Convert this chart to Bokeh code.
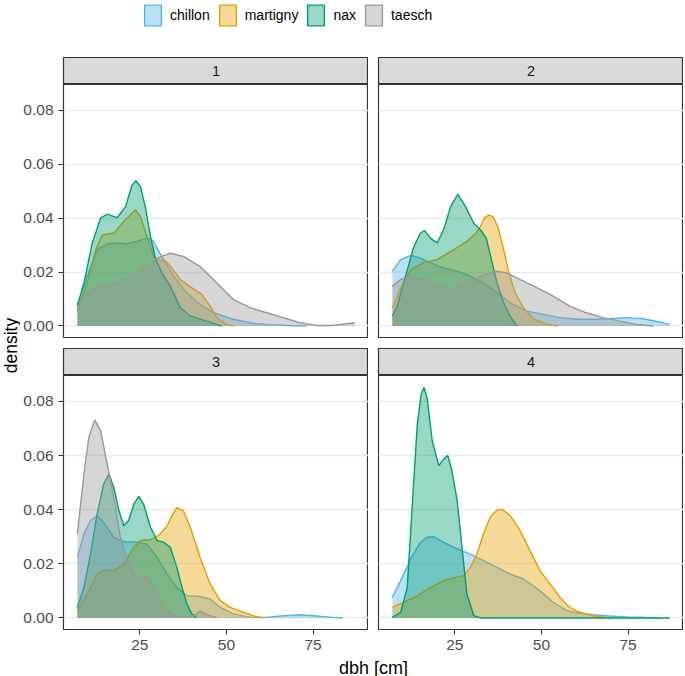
from bokeh.plotting import figure
from bokeh.models import Range1d, Label, FixedTicker, PrintfTickFormatter, ColumnDataSource
from bokeh.layouts import column, row
from bokeh.embed import file_html
from bokeh.resources import INLINE

sites = ["chillon", "martigny", "nax", "taesch"]
colors = ["#56B4E9", "#E69F00", "#009E73", "#999999"]
panels = ["1", "2", "3", "4"]
y_ticks = [0.0, 0.02, 0.04, 0.06, 0.08]
x_ticks = [25, 50, 75]

# ---- panel 1 ----
p1_chillon_x = [7, 9.9, 12.7, 15.6, 18.5, 21.4, 24.2, 27.1, 28.6, 30.0, 31.9, 34.8, 38.6, 42.4, 46.3, 52.0, 57.7, 63.5, 69.3, 73.1]
p1_chillon_y = [.008, .0185, .0283, .0305, .0308, .0305, .0314, .0326, .032, .0289, .0246, .0185, .0123, .008, .0049, .0025, .001, .0004, .0001, 0]
p1_martigny_x = [7, 9.9, 12.3, 14.2, 17.6, 20.4, 23.8, 25.2, 27.1, 29.0, 30.9, 32.4, 34.3, 36.7, 39.6, 42.9, 45.3, 47.2, 50.1, 52.0]
p1_martigny_y = [.0055, .016, .0283, .0338, .0345, .0388, .0431, .0406, .0332, .0258, .0243, .0242, .0215, .0172, .0145, .0117, .0074, .0031, .0006, 0]
p1_nax_x = [7, 8.9, 11.3, 13.7, 15.6, 18.5, 20.9, 22.8, 23.9, 25.2, 26.6, 28.1, 29.5, 31.4, 33.8, 36.7, 39.6, 43.4, 46.3, 48.7]
p1_nax_y = [.0074, .016, .0308, .040, .0415, .0402, .0443, .0523, .0539, .0517, .0443, .0332, .0252, .0197, .0148, .0068, .0037, .0022, .001, 0]
p1_taesch_x = [7, 9.9, 13.7, 18.5, 23.3, 27.1, 30.0, 33.8, 37.6, 42.4, 47.2, 52.0, 56.8, 61.6, 66.4, 71.2, 76.0, 80.7, 83.6, 87.0]
p1_taesch_y = [.0062, .0123, .0148, .016, .0185, .0221, .0252, .027, .0258, .0221, .016, .0098, .0068, .0049, .0031, .0012, .0002, .0002, .0007, .0012]

# ---- panel 2 ----
p2_chillon_x = [7, 9.4, 12.3, 15.1, 18.0, 21.8, 25.7, 29.5, 33.3, 37.2, 41.0, 45.8, 50.6, 55.4, 60.2, 64.9, 69.7, 74.5, 79.3, 84.1, 87.0]
p2_chillon_y = [.0203, .0246, .0262, .0252, .0234, .0215, .0203, .0185, .016, .0123, .0086, .0055, .0043, .0031, .0025, .0025, .0027, .0031, .0027, .0015, .0006]
p2_martigny_x = [7, 9.4, 12.3, 16.1, 19.9, 24.7, 28.5, 30.9, 32.4, 33.5, 34.8, 36.0, 37.4, 38.9, 40.5, 42.4, 44.8, 47.7, 51.0, 54.8]
p2_martigny_y = [.0068, .0141, .0209, .0236, .0246, .0283, .0314, .0341, .0369, .0400, .0412, .0406, .0369, .0295, .0203, .0123, .0068, .0027, .0009, 0]
p2_nax_x = [7, 8.4, 10.8, 13.2, 15.1, 16.3, 18.0, 19.9, 21.8, 23.8, 25.9, 28.1, 30.5, 32.4, 34.1, 35.8, 37.2, 39.1, 41.0, 42.9]
p2_nax_y = [.0037, .0074, .0185, .0295, .0345, .0354, .0326, .0308, .0357, .0443, .0488, .0443, .0381, .0357, .0326, .0234, .016, .0086, .0037, 0]
p2_taesch_x = [7, 9.4, 12.3, 15.1, 19.0, 23.8, 28.5, 32.4, 37.2, 40.0, 43.9, 48.7, 53.4, 58.2, 63.0, 67.8, 72.6, 77.4, 82.2]
p2_taesch_y = [.0148, .0172, .0188, .0178, .0154, .0135, .016, .0185, .0203, .0197, .0172, .0142, .0111, .0074, .0049, .0031, .0018, .0006, 0]

# ---- panel 3 ----
p3_chillon_x = [7, 8.9, 10.8, 12.7, 14.6, 17.5, 20.4, 24.2, 27.1, 30.0, 32.9, 35.7, 38.6, 42.4, 45.3, 48.2, 52.0, 56.8, 61.6, 66.4, 71.2, 76.0, 80.7, 83.6]
p3_chillon_y = [.0224, .031, .036, .0378, .0353, .0298, .0282, .028, .0273, .0224, .0162, .0113, .0082, .0079, .007, .0039, .0015, .0002, .0002, .0008, .0012, .0007, .0002, 0]
p3_martigny_x = [7, 9.9, 12.7, 14.6, 17.5, 20.4, 23.3, 25.2, 28.1, 30.9, 32.9, 34.8, 35.7, 37.6, 39.6, 42.4, 45.3, 48.2, 51.1, 54.9, 58.7, 60.6]
p3_martigny_y = [.0027, .0089, .0162, .0177, .0175, .02, .0261, .0286, .0289, .031, .0341, .039, .0408, .0396, .0335, .0224, .0126, .0064, .0039, .0021, .0005, 0]
p3_nax_x = [7, 8.9, 10.8, 12.7, 14.6, 16.1, 17.5, 19.0, 20.4, 21.8, 23.3, 24.7, 26.1, 28.1, 30.0, 31.9, 33.8, 35.7, 37.2, 38.6, 40.0, 41.5]
p3_nax_y = [.0039, .0113, .0236, .0384, .0495, .0532, .0483, .0396, .0341, .036, .0421, .0449, .0421, .0335, .0286, .028, .0261, .0187, .0113, .0052, .0015, 0]
p3_taesch_x = [7, 8.9, 10.3, 12.0, 13.7, 15.6, 17.5, 19.4, 21.4, 23.3, 25.2, 27.1, 29.0, 31.9, 34.8, 38.6, 41.0, 42.4, 44.3, 47.2]
p3_taesch_y = [.031, .0532, .0667, .0732, .0692, .0569, .0446, .0298, .0212, .0162, .015, .0156, .0113, .0039, .0008, .0002, .0012, .0025, .0012, 0]

# ---- panel 4 ----
p4_chillon_x = [7, 9.4, 12.3, 15.1, 17.0, 19.0, 21.8, 25.7, 29.5, 33.3, 37.2, 41.0, 44.8, 47.7, 50.6, 53.4, 57.3, 61.1, 64.9, 69.7, 74.5, 79.3, 84.1]
p4_chillon_y = [.0076, .0138, .0218, .0279, .0298, .03, .0279, .0255, .0236, .0212, .0187, .0162, .0144, .0119, .0089, .0058, .0027, .0017, .0012, .0007, .0004, .0002, 0]
p4_martigny_x = [7, 10.3, 14.2, 18.0, 21.8, 24.7, 27.6, 29.5, 31.4, 33.3, 35.2, 37.2, 38.6, 41.0, 43.9, 46.7, 49.6, 52.5, 55.4, 58.2, 61.1, 64.9, 68.8, 70.7]
p4_martigny_y = [.0039, .0058, .0082, .0113, .0138, .0148, .0156, .0187, .0236, .031, .0372, .0399, .0402, .0378, .0322, .0249, .0175, .0126, .0076, .0039, .0021, .0008, .0002, 0]
p4_nax_x = [7, 9.4, 11.3, 12.7, 14.2, 15.3, 16.1, 17.0, 18.5, 20.4, 21.8, 23.0, 24.2, 25.7, 27.1, 28.5, 30.5, 32.4, 41.0, 55.4, 69.7, 87.0]
p4_nax_y = [.0002, .0021, .0113, .0409, .0717, .0827, .0852, .0815, .0655, .0563, .0587, .06, .0544, .0433, .026, .0089, .0008, 0, 0, 0, 0, 0]

panel_curves = {
    "1": [(p1_chillon_x, p1_chillon_y), (p1_martigny_x, p1_martigny_y), (p1_nax_x, p1_nax_y), (p1_taesch_x, p1_taesch_y)],
    "2": [(p2_chillon_x, p2_chillon_y), (p2_martigny_x, p2_martigny_y), (p2_nax_x, p2_nax_y), (p2_taesch_x, p2_taesch_y)],
    "3": [(p3_chillon_x, p3_chillon_y), (p3_martigny_x, p3_martigny_y), (p3_nax_x, p3_nax_y), (p3_taesch_x, p3_taesch_y)],
    "4": [(p4_chillon_x, p4_chillon_y), (p4_martigny_x, p4_martigny_y), (p4_nax_x, p4_nax_y), None],
}

FONT = "Liberation Sans"
FRAME_W = 305
TOP_H = 253
BOT_H = 254
STRIP_H = 27
ROW_GAP = 11
LEFT_AXIS = 43
GAP = 10
YLAB_W = 20
LEG_H = 57
XAX_H = 29
XLAB_H = 18


def base_fig(w, h, **kw):
    return figure(width=w, height=h, toolbar_location=None, output_backend="svg", title=None, **kw)


def blank_fig(w, h, xr=None, **kw):
    f = base_fig(w, h, x_range=xr or Range1d(0, 1), y_range=Range1d(0, 1),
                 x_axis_location=None, y_axis_location=None,
                 min_border_top=0, min_border_bottom=0, **kw)
    f.grid.visible = False
    return f


def make_strip(name, w, left):
    s = blank_fig(w, STRIP_H, min_border_left=left, min_border_right=0)
    s.background_fill_color = "#D9D9D9"
    s.outline_line_color = "#333333"
    s.outline_line_width = 1.2
    s.add_layout(Label(x=0.5, y=0.5, text=name, text_align="center", text_baseline="middle",
                       text_font_size="14.5px", text_color="#1A1A1A", text_font=FONT))
    return s


def make_panel(name, w, h, left, bottom, show_x, show_y):
    p = base_fig(w, h, x_range=Range1d(3.0, 91.0), y_range=Range1d(-0.00427, 0.0896),
                 x_axis_location="below" if show_x else None,
                 y_axis_location="left" if show_y else None,
                 min_border_left=left, min_border_right=0, min_border_top=0, min_border_bottom=bottom)
    p.background_fill_color = "white"
    p.outline_line_color = "#333333"
    p.outline_line_width = 1.2
    p.xgrid.visible = False
    p.ygrid.ticker = FixedTicker(ticks=y_ticks)
    p.ygrid.grid_line_color = "#EBEBEB"
    p.ygrid.grid_line_width = 1.3
    for ax in list(p.xaxis) + list(p.yaxis):
        ax.axis_line_color = None
        ax.major_tick_line_color = "#333333"
        ax.major_tick_line_width = 1.1
        ax.major_tick_out = 5
        ax.major_tick_in = 0
        ax.minor_tick_line_color = None
        ax.major_label_text_font = FONT
        ax.major_label_text_font_size = "15.5px"
        ax.major_label_text_color = "#4D4D4D"
        ax.major_label_standoff = 5
    if show_y:
        p.yaxis.ticker = FixedTicker(ticks=y_ticks)
        p.yaxis.formatter = PrintfTickFormatter(format="%.2f")
    if show_x:
        p.xaxis.ticker = FixedTicker(ticks=x_ticks)
    for site, col, curve in zip(sites, colors, panel_curves[name]):
        if curve is None:
            continue
        src = ColumnDataSource(dict(x=curve[0], y=curve[1]))
        p.varea(x="x", y1=0, y2="y", source=src, fill_color=col, fill_alpha=0.4)
        p.line(x="x", y="y", source=src, line_color=col, line_width=1.4)
    return p


LEFT_W = LEFT_AXIS + FRAME_W
RIGHT_W = GAP + FRAME_W
TOTAL_W = YLAB_W + LEFT_W + RIGHT_W

# legend figure: the key glyphs are panel-1 curves drawn outside this figure's visible range
leg = blank_fig(TOTAL_W, LEG_H, xr=Range1d(-200, -199), min_border_left=0, min_border_right=0)
leg.outline_line_color = None
for site, col, curve in zip(sites, colors, panel_curves["1"]):
    leg.patch(curve[0], curve[1], fill_color=col, fill_alpha=0.4,
              line_color=col, line_width=1.4, legend_label=site)
lg = leg.legend[0]
lg.orientation = "horizontal"
lg.location = (142, LEG_H - 28)
lg.glyph_width = 21
lg.glyph_height = 26
lg.label_standoff = 7
lg.spacing = 7
lg.padding = 0
lg.margin = 0
lg.border_line_color = None
lg.background_fill_alpha = 0
lg.label_text_font = FONT
lg.label_text_font_size = "14px"
lg.label_text_color = "#000000"

s1 = make_strip(panels[0], LEFT_W, LEFT_AXIS)
s2 = make_strip(panels[1], RIGHT_W, GAP)
s3 = make_strip(panels[2], LEFT_W, LEFT_AXIS)
s4 = make_strip(panels[3], RIGHT_W, GAP)
f1 = make_panel(panels[0], LEFT_W, TOP_H + ROW_GAP, LEFT_AXIS, ROW_GAP, False, True)
f2 = make_panel(panels[1], RIGHT_W, TOP_H + ROW_GAP, GAP, ROW_GAP, False, False)
f3 = make_panel(panels[2], LEFT_W, BOT_H + XAX_H, LEFT_AXIS, XAX_H, True, True)
f4 = make_panel(panels[3], RIGHT_W, BOT_H + XAX_H, GAP, XAX_H, True, False)

col_h = STRIP_H + TOP_H + ROW_GAP + STRIP_H + BOT_H + XAX_H
ylab = blank_fig(YLAB_W, col_h, min_border_left=0, min_border_right=0)
ylab.outline_line_color = None
ylab.add_layout(Label(x=10, y=col_h - (345 - LEG_H), x_units="screen", y_units="screen", text="density",
                      angle=90, angle_units="deg", text_align="center", text_baseline="middle",
                      text_font=FONT, text_font_size="17.5px", text_color="#000000"))

xlab = blank_fig(TOTAL_W, XLAB_H, min_border_left=0, min_border_right=0)
xlab.outline_line_color = None
xlab.add_layout(Label(x=YLAB_W + LEFT_AXIS + (2 * FRAME_W + GAP) / 2, y=9, x_units="screen", y_units="screen",
                      text="dbh [cm]", text_align="center", text_baseline="middle",
                      text_font=FONT, text_font_size="18px", text_color="#000000"))

root = column(leg,
              row(ylab, column(s1, f1, s3, f3), column(s2, f2, s4, f4)),
              xlab)

open("out.html", "w").write(file_html(root, INLINE))
